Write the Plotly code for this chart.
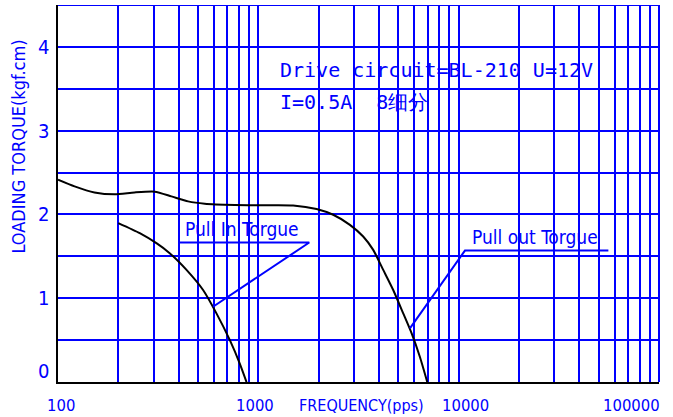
import math
import plotly.graph_objects as go

# ---- data ----
pull_out_freq = [100, 121, 152, 192, 241, 304, 368, 446, 540, 763, 1000, 1492, 1953, 2364,
                 2865, 3338, 3745, 4202, 4713, 5288, 5826, 6408, 6970]
pull_out_torque = [2.415, 2.335, 2.263, 2.240, 2.263, 2.272, 2.216, 2.156, 2.128, 2.113, 2.11,
                   2.108, 2.065, 1.996, 1.876, 1.737, 1.577, 1.338, 1.098, 0.819, 0.580, 0.299, 0.0]

pull_in_freq = [200, 256, 310, 361, 438, 530, 618, 721, 808, 873]
pull_in_torque = [1.897, 1.777, 1.657, 1.538, 1.338, 1.098, 0.819, 0.499, 0.220, 0.0]

# callout leaders: underline then pointer
pull_in_leader_x = [402, 1796, 594]
pull_in_leader_y = [1.665, 1.665, 0.898]
pull_out_leader_x = [55900, 10750, 5710]
pull_out_leader_y = [1.569, 1.569, 0.64]

x_tick_vals = [100, 1000, 10000, 100000]
x_tick_text = ["100", "1000", "10000", "100000"]
y_tick_vals = [0, 1, 2, 3, 4]
y_tick_text = ["0", "1", "2", "3", "4"]

BLUE = "#0000FF"
NARROW = "DejaVu Sans Condensed, Liberation Sans Narrow, sans-serif"
MONO = "DejaVu Sans Mono, monospace"

x_grid = [m * 10 ** e for e in (2, 3, 4) for m in range(1, 10)] + [100000]
y_grid = [i * 0.5 for i in range(10)]

fig = go.Figure()
fig.add_trace(go.Scatter(x=pull_out_freq, y=pull_out_torque, mode="lines",
                         line=dict(color="black", width=2, shape="spline", smoothing=0.6),
                         name="Pull out Torgue", showlegend=False))
fig.add_trace(go.Scatter(x=pull_in_freq, y=pull_in_torque, mode="lines",
                         line=dict(color="black", width=2, shape="spline", smoothing=0.6),
                         name="Pull In Torgue", showlegend=False))
fig.add_trace(go.Scatter(x=pull_in_leader_x, y=pull_in_leader_y, mode="lines",
                         line=dict(color=BLUE, width=2), showlegend=False, hoverinfo="skip"))
fig.add_trace(go.Scatter(x=pull_out_leader_x, y=pull_out_leader_y, mode="lines",
                         line=dict(color=BLUE, width=2), showlegend=False, hoverinfo="skip"))

ann = []
# y tick labels
for v, t in zip(y_tick_vals, y_tick_text):
    ann.append(dict(x=0, xref="paper", y=v, yref="y", text=t, showarrow=False,
                    xanchor="right", yanchor="bottom" if v == 0 else "middle", xshift=-7,
                    yshift=-3 if v == 0 else 0,
                    font=dict(family=NARROW, size=20, color=BLUE)))
# x tick labels
x_shift = {100: 3, 1000: -3, 10000: 7, 100000: 3}
for v, t in zip(x_tick_vals, x_tick_text):
    ann.append(dict(x=math.log10(v), xref="x", y=0, yref="paper", text=t, showarrow=False,
                    xanchor="right" if v == 100000 else "center", yanchor="middle",
                    xshift=x_shift[v], yshift=-23,
                    font=dict(family=NARROW, size=16.5, color=BLUE)))
ann.append(dict(x=0.5045, xref="paper", y=0, yref="paper", text="FREQUENCY(pps)",
                showarrow=False, xanchor="center", yanchor="middle", yshift=-23,
                font=dict(family=NARROW, size=16, color=BLUE)))
ann.append(dict(x=0, xref="paper", y=0.6244, yref="paper", text="LOADING TORQUE(kgf.cm)",
                showarrow=False, xanchor="center", yanchor="middle", xshift=-39, textangle=-90,
                font=dict(family=NARROW, size=18, color=BLUE)))
ann.append(dict(x=math.log10(1250), xref="x", y=3.72, yref="y", text="Drive circuit=BL-210 U=12V",
                showarrow=False, xanchor="left", yanchor="middle",
                font=dict(family=MONO, size=20, color=BLUE)))
ann.append(dict(x=math.log10(1250), xref="x", y=3.337, yref="y", text="I=0.5A  8细分",
                showarrow=False, xanchor="left", yanchor="middle",
                font=dict(family=MONO, size=20, color=BLUE)))
ann.append(dict(x=math.log10(831), xref="x", y=1.823, yref="y", text="Pull In Torgue",
                showarrow=False, xanchor="center", yanchor="middle",
                font=dict(family=NARROW, size=19, color=BLUE)))
ann.append(dict(x=math.log10(23990), xref="x", y=1.727, yref="y", text="Pull out Torgue",
                showarrow=False, xanchor="center", yanchor="middle",
                font=dict(family=NARROW, size=19, color=BLUE)))

fig.update_layout(
    width=673, height=417,
    margin=dict(l=58, r=14, t=5, b=35),
    paper_bgcolor="white", plot_bgcolor="white",
    showlegend=False,
    annotations=ann,
    shapes=[dict(type="line", xref="paper", x0=0, x1=1, yref="y", y0=4.5, y1=4.5,
                 line=dict(color=BLUE, width=2), layer="below"),
            dict(type="line", xref="paper", x0=1, x1=1, yref="paper", y0=0, y1=1,
                 line=dict(color=BLUE, width=2), layer="below")],
    xaxis=dict(type="log", range=[2, 5.0001], tickvals=x_grid, showticklabels=False,
               ticks="", showgrid=True, gridcolor=BLUE, gridwidth=2,
               showline=True, linecolor="black", linewidth=2, zeroline=False),
    yaxis=dict(range=[0, 4.5001], tickvals=y_grid, showticklabels=False,
               ticks="", showgrid=True, gridcolor=BLUE, gridwidth=2,
               showline=True, linecolor="black", linewidth=2, zeroline=False),
)
fig.write_html("out.html", config={"displayModeBar": False},
               post_script="document.body.style.margin='0px';")
